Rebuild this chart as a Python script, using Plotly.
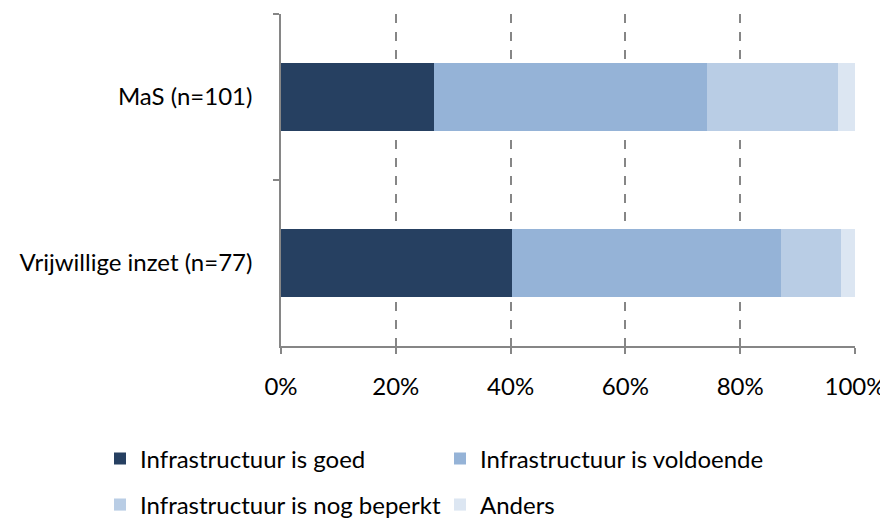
import plotly.graph_objects as go

categories = ["MaS (n=101)", "Vrijwillige inzet (n=77)"]
series_names = ["Infrastructuur is goed", "Infrastructuur is voldoende",
                "Infrastructuur is nog beperkt", "Anders"]
goed = [0.267, 0.403]
voldoende = [0.475, 0.468]
beperkt = [0.228, 0.104]
anders = [0.030, 0.026]
x_ticks = [0, 0.2, 0.4, 0.6, 0.8, 1.0]
x_tick_labels = ["0%", "20%", "40%", "60%", "80%", "100%"]

colors = ["#264061", "#95B3D7", "#B9CDE5", "#DCE6F2"]
values = [goed, voldoende, beperkt, anders]
legend_ids = ["legend", "legend2", "legend3", "legend4"]

# page body has an 8px margin; size the figure to fill the rest of the window
OFF = 8
W, H = 888 - OFF, 518 - OFF
# legend positions (window pixels): x start, y centre
legend_pos = [(100, 459), (440, 459), (100, 505), (440, 505)]

FONT = "Lato"
FS = 24
fig = go.Figure()
for name, vals, col, lg in zip(series_names, values, colors, legend_ids):
    fig.add_trace(go.Bar(
        y=categories, x=vals, name=name, orientation="h",
        marker=dict(color=col, line=dict(width=0)),
        legend=lg, width=0.41,
    ))

layout_legends = {}
for lg, (px, py) in zip(legend_ids, legend_pos):
    layout_legends[lg] = dict(
        orientation="h", xref="container", yref="container",
        x=(px - OFF) / W, y=1 - (py - OFF) / H, xanchor="left", yanchor="middle",
        font=dict(family=FONT, size=FS, color="black"),
        itemclick=False, bgcolor="rgba(0,0,0,0)", borderwidth=0,
    )

fig.update_layout(
    barmode="stack",
    width=W, height=H,
    margin=dict(l=281 - OFF, r=888 - 855, t=14 - OFF, b=518 - 346),
    paper_bgcolor="white", plot_bgcolor="white",
    font=dict(family=FONT, size=FS, color="black"),
    showlegend=True,
    **layout_legends,
)
fig.update_xaxes(
    range=[0, 1], tickvals=x_ticks, ticktext=x_tick_labels,
    showgrid=True, gridcolor="#868686", griddash="dash", gridwidth=1.5,
    showline=True, linecolor="#868686", linewidth=1.5,
    ticks="outside", ticklen=6, tickcolor="#868686", tickwidth=1.5,
    ticklabelstandoff=12, zeroline=False, automargin=False,
)
fig.update_yaxes(
    categoryorder="array", categoryarray=categories, autorange="reversed",
    showline=True, linecolor="#868686", linewidth=1.5,
    ticks="outside", ticklen=6, tickcolor="#868686", tickwidth=1.5,
    tickson="boundaries", ticklabelstandoff=22, showgrid=False,
    automargin=False,
)
fig.write_html("out.html")
